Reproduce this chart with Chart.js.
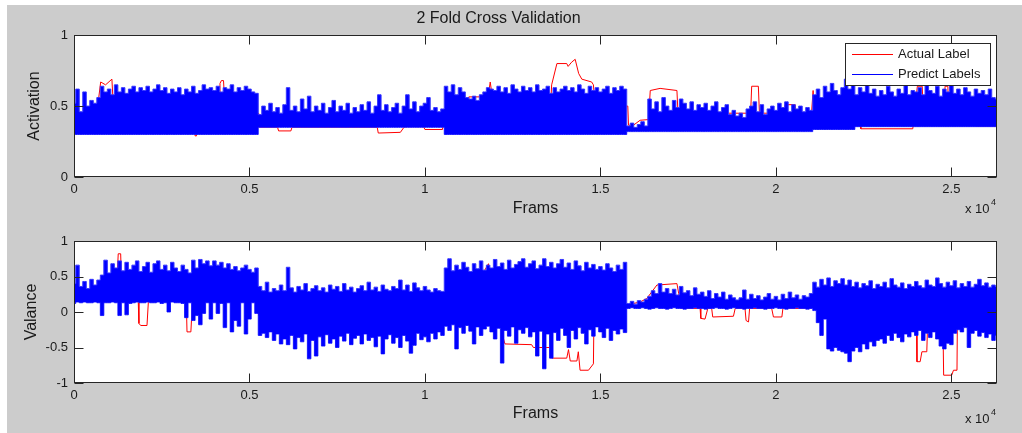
<!DOCTYPE html>
<html>
<head>
<meta charset="utf-8">
<title>2 Fold Cross Validation</title>
<script src="https://cdn.jsdelivr.net/npm/chart.js@4"></script>
<style>
    body { margin: 0; background: #fff; }
    #figure { position: absolute; left: 7px; top: 5px; width: 1015px; height: 428px; background: #ccc; }
    canvas { position: absolute; left: 0; }
    #chart-activation { top: 0; }
    #chart-valance { top: 220px; }
</style>
</head>
<body>
<div id="figure"></div>
<canvas id="chart-activation" width="1022" height="220"></canvas>
<canvas id="chart-valance" width="1022" height="213"></canvas>
<script>
/**
 * Frames between two stored samples of the predicted-label envelope.
 */
const FRAME_STEP = 100;
const FRAME_MAX = 26300;

const xTickFrames = [0, 5000, 10000, 15000, 20000, 25000];
const xTickLabels = ['0', '0.5', '1', '1.5', '2', '2.5'];
const actTicks = [0, 0.5, 1];
const valTicks = [-1, -0.5, 0, 0.5, 1];

/**
 * Activation, predicted labels: upper edge of the band, one value per 100 frames.
 */
const actHigh = [
    0.52, 0.62, 0.46, 0.60, 0.50, 0.54, 0.52, 0.56, 0.64, 0.60,
    0.62, 0.58, 0.65, 0.60, 0.63, 0.59, 0.62, 0.64, 0.60, 0.63,
    0.61, 0.64, 0.60, 0.62, 0.65, 0.61, 0.63, 0.59, 0.62, 0.60,
    0.63, 0.58, 0.62, 0.60, 0.64, 0.59, 0.61, 0.65, 0.62, 0.63,
    0.61, 0.64, 0.60, 0.63, 0.62, 0.65, 0.60, 0.63, 0.61, 0.64,
    0.62, 0.60, 0.59, 0.44, 0.50, 0.47, 0.52, 0.46, 0.49, 0.45,
    0.51, 0.63, 0.47, 0.50, 0.46, 0.55, 0.48, 0.57, 0.46, 0.50,
    0.47, 0.52, 0.45, 0.49, 0.54, 0.46, 0.50, 0.47, 0.52, 0.45,
    0.49, 0.46, 0.51, 0.47, 0.53, 0.45, 0.50, 0.58, 0.47, 0.51,
    0.46, 0.49, 0.52, 0.45, 0.50, 0.58, 0.48, 0.53, 0.46, 0.50,
    0.52, 0.56, 0.47, 0.49, 0.46, 0.48, 0.64, 0.60, 0.65, 0.58,
    0.63, 0.60, 0.56, 0.55, 0.57, 0.54, 0.58, 0.60, 0.63, 0.62,
    0.61, 0.64, 0.60, 0.63, 0.59, 0.65, 0.62, 0.60, 0.64, 0.61,
    0.63, 0.60, 0.65, 0.61, 0.62, 0.64, 0.59, 0.63, 0.60, 0.62,
    0.64, 0.61, 0.63, 0.60, 0.65, 0.62, 0.59, 0.64, 0.61, 0.63,
    0.60, 0.62, 0.64, 0.59, 0.63, 0.61, 0.64, 0.62, 0.36, 0.38,
    0.35, 0.37, 0.39, 0.36, 0.55, 0.48, 0.53, 0.46, 0.56, 0.50,
    0.47, 0.54, 0.49, 0.55, 0.52, 0.48, 0.53, 0.47, 0.51, 0.49,
    0.52, 0.47, 0.50, 0.53, 0.46, 0.49, 0.51, 0.44, 0.47, 0.43,
    0.45, 0.42, 0.48, 0.50, 0.53, 0.46, 0.51, 0.44, 0.48, 0.50,
    0.47, 0.52, 0.49, 0.53, 0.46, 0.51, 0.48, 0.50, 0.46, 0.49,
    0.47, 0.58, 0.62, 0.56, 0.64, 0.60, 0.66, 0.61, 0.58, 0.63,
    0.69, 0.62, 0.65, 0.58, 0.63, 0.60, 0.66, 0.59, 0.62, 0.57,
    0.61, 0.58, 0.64, 0.60, 0.57, 0.62, 0.59, 0.65, 0.58, 0.61,
    0.60, 0.63, 0.58, 0.66, 0.61, 0.59, 0.64, 0.57, 0.62, 0.60,
    0.65, 0.59, 0.62, 0.58, 0.63, 0.60, 0.57, 0.62, 0.59, 0.61,
    0.58, 0.62, 0.56, 0.55
];

/**
 * Activation, predicted labels: the flat lower edge of each block.
 */
const floorStart = [0, 5250, 10510, 15780, 21020, 22300];
const actFloor = [0.30, 0.35, 0.30, 0.32, 0.335, 0.355];

/**
 * Valance, predicted labels: upper and lower edge, one value per 100 frames.
 */
const valHigh = [
    0.40, 0.66, 0.36, 0.43, 0.33, 0.46, 0.38, 0.45, 0.52, 0.73,
    0.55, 0.68, 0.62, 0.72, 0.58, 0.70, 0.60, 0.66, 0.72, 0.57,
    0.64, 0.70, 0.56, 0.68, 0.72, 0.60, 0.66, 0.58, 0.70, 0.62,
    0.57, 0.66, 0.60, 0.55, 0.73, 0.62, 0.74, 0.68, 0.72, 0.65,
    0.72, 0.66, 0.70, 0.62, 0.68, 0.60, 0.64, 0.58, 0.62, 0.66,
    0.60, 0.56, 0.62, 0.36, 0.30, 0.42, 0.28, 0.33, 0.30, 0.38,
    0.30, 0.63, 0.34, 0.28, 0.36, 0.31, 0.40, 0.29, 0.33, 0.37,
    0.30, 0.34, 0.28, 0.38, 0.32, 0.36, 0.29, 0.40, 0.31, 0.35,
    0.28, 0.33, 0.37, 0.30, 0.42, 0.31, 0.35, 0.29, 0.38, 0.32,
    0.30, 0.36, 0.33, 0.45, 0.31, 0.38, 0.29, 0.41, 0.34, 0.30,
    0.36, 0.31, 0.28, 0.33, 0.30, 0.29, 0.62, 0.75, 0.58, 0.66,
    0.60, 0.70, 0.63, 0.57, 0.68, 0.61, 0.72, 0.59, 0.66, 0.62,
    0.74, 0.64, 0.69, 0.60, 0.73, 0.62, 0.67, 0.71, 0.75, 0.63,
    0.68, 0.72, 0.61, 0.66, 0.75, 0.64, 0.70, 0.62, 0.68, 0.74,
    0.63, 0.69, 0.60, 0.72, 0.65, 0.58, 0.70, 0.62, 0.67, 0.60,
    0.64, 0.59, 0.68, 0.62, 0.57, 0.66, 0.60, 0.70, 0.12, 0.15,
    0.11, 0.16, 0.14, 0.18, 0.22, 0.30, 0.26, 0.40, 0.28, 0.33,
    0.26, 0.32, 0.24, 0.36, 0.27, 0.30, 0.23, 0.34, 0.25, 0.28,
    0.22, 0.30, 0.19, 0.26, 0.21, 0.28, 0.18, 0.24, 0.20, 0.17,
    0.20, 0.31, 0.18, 0.25, 0.19, 0.23, 0.17, 0.21, 0.26, 0.18,
    0.22, 0.17, 0.25, 0.19, 0.28, 0.20, 0.24, 0.18, 0.23, 0.21,
    0.26, 0.42, 0.35, 0.46, 0.38, 0.48, 0.36, 0.44, 0.40, 0.47,
    0.38, 0.45, 0.36, 0.42, 0.34, 0.40, 0.37, 0.44, 0.33, 0.39,
    0.36, 0.42, 0.34, 0.47, 0.38, 0.35, 0.41, 0.33, 0.39, 0.36,
    0.43, 0.37, 0.34, 0.45, 0.38, 0.36, 0.48, 0.40, 0.35, 0.42,
    0.37, 0.44, 0.34, 0.40, 0.36, 0.43, 0.35, 0.39, 0.46, 0.37,
    0.41, 0.35, 0.38, 0.36
];
const valLow = [
    0.12, 0.14, 0.13, 0.14, 0.13, 0.13, 0.14, 0.13, -0.05, 0.13,
    0.13, 0.14, 0.13, -0.05, 0.13, -0.04, 0.12, 0.13, 0.14, 0.13,
    0.13, 0.14, 0.13, 0.13, 0.14, 0.12, 0.13, 0.00, 0.14, 0.13,
    0.13, 0.12, -0.08, 0.13, -0.12, -0.05, -0.18, -0.02, 0.13, -0.10,
    0.13, -0.02, 0.12, -0.22, 0.13, -0.28, -0.12, -0.20, 0.13, -0.31,
    -0.10, 0.13, -0.02, -0.33, -0.30, -0.36, -0.28, -0.40, -0.31, -0.45,
    -0.38, -0.46, -0.33, -0.52, -0.36, -0.42, -0.31, -0.66, -0.40, -0.62,
    -0.35, -0.48, -0.32, -0.44, -0.38, -0.50, -0.34, -0.41, -0.30, -0.46,
    -0.37, -0.33, -0.45, -0.31, -0.40, -0.36, -0.49, -0.34, -0.59, -0.38,
    -0.32, -0.44, -0.36, -0.50, -0.33, -0.41, -0.58, -0.47, -0.30, -0.39,
    -0.35, -0.42, -0.30, -0.38, -0.28, -0.33, -0.20, -0.26, -0.18, -0.52,
    -0.22, -0.30, -0.19, -0.27, -0.45, -0.21, -0.33, -0.24, -0.20, -0.28,
    -0.38, -0.23, -0.72, -0.26, -0.34, -0.21, -0.44, -0.25, -0.30, -0.22,
    -0.35, -0.28, -0.62, -0.27, -0.80, -0.31, -0.65, -0.29, -0.40, -0.23,
    -0.33, -0.50, -0.26, -0.38, -0.22, -0.30, -0.45, -0.25, -0.34, -0.21,
    -0.28, -0.36, -0.23, -0.40, -0.26, -0.31, -0.24, -0.29, 0.05, 0.06,
    0.05, 0.05, 0.06, 0.05, 0.04, 0.05, 0.06, 0.05, 0.05, 0.04,
    0.05, 0.06, 0.05, 0.05, 0.04, 0.05, 0.05, 0.06, 0.05, 0.05,
    0.04, 0.05, 0.05, 0.06, 0.05, 0.05, 0.04, 0.05, 0.06, 0.05,
    0.05, 0.04, 0.05, 0.05, 0.06, 0.05, 0.05, 0.04, 0.05, 0.05,
    0.06, 0.05, 0.05, 0.04, 0.05, 0.05, 0.06, 0.05, 0.05, 0.04,
    0.05, 0.02, -0.15, -0.33, -0.10, -0.52, -0.55, -0.50, -0.54, -0.56,
    -0.58, -0.70, -0.55, -0.50, -0.56, -0.45, -0.52, -0.42, -0.48, -0.40,
    -0.38, -0.44, -0.33, -0.40, -0.30, -0.36, -0.42, -0.31, -0.35, -0.28,
    -0.33, -0.26, -0.40, -0.30, -0.36, -0.28, -0.38, -0.48, -0.52, -0.44,
    -0.46, -0.30, -0.25, -0.28, -0.22, -0.50, -0.30, -0.26, -0.34, -0.29,
    -0.36, -0.31, -0.40, -0.33
];

/**
 * Actual labels: the frames where the step line changes and its values there.
 */
const actLabelFrames = [
    0, 680, 700, 760, 900, 1080, 1110, 1130, 3440, 3450, 3480, 3490, 4140, 4160, 4200, 4260, 4290, 4300,
    5250, 5260, 5800, 5830, 6180, 6210, 8640, 8670, 9300, 9400, 9500, 9960, 10000, 10500,
    10520, 11200, 11230, 11250, 11800, 11860, 11900, 12000, 13580, 13610, 13760, 14040, 14080, 14180,
    14280, 14380, 14470, 14750, 14800, 14850, 15780, 15800, 15940, 16130, 16370, 16420, 16700, 17180,
    17210, 19280, 19310, 19500, 19530, 20240, 20260, 20550, 20580, 21000, 21060, 21100, 22400, 22420,
    23900, 23950, 24030, 24170, 24200, 24800, 24820, 24900, 24920, 25700, 25720, 26300
];
const actLabelValues = [
    0.45, 0.45, 0.55, 0.67, 0.65, 0.69, 0.55, 0.45, 0.45, 0.29, 0.29, 0.45, 0.50, 0.66, 0.68, 0.68, 0.55, 0.45,
    0.45, 0.35, 0.35, 0.325, 0.325, 0.35, 0.35, 0.31, 0.315, 0.35, 0.355, 0.355, 0.335, 0.335,
    0.40, 0.45, 0.53, 0.565, 0.565, 0.67, 0.60, 0.50, 0.50, 0.65, 0.80, 0.80, 0.78, 0.81,
    0.83, 0.73, 0.69, 0.67, 0.65, 0.50, 0.50, 0.365, 0.365, 0.40, 0.405, 0.61, 0.625, 0.61,
    0.45, 0.45, 0.64, 0.64, 0.45, 0.45, 0.51, 0.51, 0.40, 0.40, 0.61, 0.45, 0.45, 0.34,
    0.34, 0.45, 0.64, 0.64, 0.45, 0.45, 0.64, 0.64, 0.45, 0.45, 0.36, 0.36
];
const valLabelFrames = [
    0, 1050, 1070, 1240, 1260, 1330, 1350, 1370, 1830, 1850, 1900, 2080, 2120, 3200, 3220, 3330, 3360, 3400,
    3640, 3650, 3700, 3710, 5250, 5270, 10500, 10520, 11200, 11240, 11380, 11670, 11810, 11850,
    12100, 12140, 12240, 12280, 13040, 13090, 13570, 13610, 14040, 14090, 14140, 14330, 14370, 14420,
    14660, 14800, 14820, 15780, 15800, 15940, 16130, 16320, 16610, 17180, 17230, 17300, 17840, 17860,
    17980, 18060, 18170, 18200, 18790, 18840, 19120, 19150, 19220, 19250, 19880, 19930, 20170, 20200,
    21020, 21100, 21700, 21780, 21800, 24000, 24020, 24110, 24160, 24300, 24320, 24760, 24780, 25010,
    25060, 25160, 25170, 26300
];
const valLabelValues = [
    0.15, 0.15, 0.45, 0.60, 0.82, 0.82, 0.45, 0.15, 0.15, -0.16, -0.19, -0.19, 0.15, 0.15, -0.28, -0.28, 0.0, 0.15,
    0.15, 0.0, 0.0, 0.15, 0.15, -0.05, -0.05, 0.07, 0.07, 0.38, 0.42, 0.56, 0.68, 0.20,
    0.20, -0.05, -0.38, -0.45, -0.46, -0.50, -0.50, -0.65, -0.65, -0.53, -0.69, -0.69, -0.56, -0.82,
    -0.82, -0.73, 0.09, 0.09, 0.07, 0.12, 0.14, 0.19, 0.38, 0.40, 0.26, 0.05, 0.05, -0.09,
    -0.10, 0.05, 0.05, -0.07, -0.06, 0.05, 0.05, -0.12, -0.14, 0.05, 0.05, -0.07, -0.07, 0.05,
    0.05, 0.20, 0.35, 0.35, 0.0, 0.0, -0.70, -0.70, -0.56, -0.56, -0.20, -0.20, -0.89, -0.89,
    -0.82, -0.82, -0.19, -0.19
];

const FONT = "'Liberation Sans', Arial, sans-serif";
const INK = '#1a1a1a';
const AXIS = '#262626';
const TICK_LEN = 9;

const onDOMLoaded = () => {
    Chart.defaults.font.family = FONT;
    Chart.defaults.color = INK;

    const frames = actHigh.map((_, i) => i * FRAME_STEP);

    /**
     * Lower edge of the activation band: the floor of the block a frame belongs to.
     */
    const floorAt = (frame) => {
        let value = actFloor[0];
        floorStart.forEach((start, i) => {
            if (frame >= start) value = actFloor[i];
        });
        return value;
    };
    const actLow = frames.map(floorAt);

    const toPoints = (xs, ys) => xs.map((x, i) => ({x, y: ys[i]}));

    /**
     * The blue band is drawn as columns (stepped edges), which reads like the dense
     * vertical strokes of the original instead of a smooth saw.
     */
    const buildDatasets = (labelFrames, labelValues, high, low) => [
        {
            label: 'Actual Label', data: toPoints(labelFrames, labelValues),
            borderColor: '#ff0000', borderWidth: 1, pointRadius: 0, fill: false, order: 1
        },
        {
            label: 'Predict Labels', data: toPoints(frames, high), stepped: 'middle',
            borderColor: '#3636ff', backgroundColor: '#0000ff', borderWidth: 1, pointRadius: 0, fill: '+1', order: 0
        },
        {
            label: 'Predict Labels', data: toPoints(frames, low), stepped: 'middle',
            borderColor: '#3636ff', borderWidth: 1, pointRadius: 0, fill: false, order: 0
        }
    ];

    /**
     * White plot area below, box and inward ticks on top, as in the original figure.
     */
    const plotFrame = {
        id: 'plotFrame',
        beforeDraw: (chart) => {
            const {ctx, chartArea: a} = chart;
            ctx.save();
            ctx.fillStyle = '#fff';
            ctx.fillRect(a.left, a.top, a.right - a.left, a.bottom - a.top);
            ctx.restore();
        },
        afterDraw: (chart) => {
            const {ctx, chartArea: a, scales: {x, y}} = chart;
            const left = Math.floor(a.left) + 0.5;
            const right = Math.floor(a.right) - 0.5;
            const top = Math.floor(a.top) + 0.5;
            const bottom = Math.floor(a.bottom) - 0.5;
            ctx.save();
            ctx.strokeStyle = AXIS;
            ctx.lineWidth = 1;
            ctx.strokeRect(left, top, right - left, bottom - top);
            ctx.beginPath();
            x.ticks.forEach((t) => {
                const px = Math.round(x.getPixelForValue(t.value)) + 0.5;
                ctx.moveTo(px, bottom); ctx.lineTo(px, bottom - TICK_LEN);
                ctx.moveTo(px, top); ctx.lineTo(px, top + TICK_LEN);
            });
            y.ticks.forEach((t) => {
                const py = Math.round(y.getPixelForValue(t.value)) + 0.5;
                ctx.moveTo(left, py); ctx.lineTo(left + TICK_LEN, py);
                ctx.moveTo(right, py); ctx.lineTo(right - TICK_LEN, py);
            });
            ctx.stroke();
            ctx.restore();
        }
    };

    /**
     * The "x 10^4" multiplier under the right end of the frame axis.
     */
    const exponentLabel = {
        id: 'exponentLabel',
        afterDraw: (chart, args, opts) => {
            const {ctx, chartArea: a} = chart;
            ctx.save();
            ctx.fillStyle = INK;
            ctx.textBaseline = 'alphabetic';
            ctx.font = `13px ${FONT}`;
            ctx.fillText('x 10', a.right - 32, opts.baseline);
            ctx.font = `9px ${FONT}`;
            ctx.fillText('4', a.right - 6, opts.baseline - 8);
            ctx.restore();
        }
    };

    /**
     * Boxed legend in the upper right corner of the activation plot.
     */
    const legendBox = {
        id: 'legendBox',
        afterDraw: (chart) => {
            const {ctx, chartArea: a} = chart;
            const L = Math.floor(a.right) - 152;
            const T = Math.floor(a.top) + 8;
            ctx.save();
            ctx.fillStyle = '#fff';
            ctx.fillRect(L, T, 145, 42);
            ctx.strokeStyle = AXIS;
            ctx.lineWidth = 1;
            ctx.strokeRect(L + 0.5, T + 0.5, 145, 42);
            ctx.font = `13px ${FONT}`;
            ctx.textBaseline = 'middle';
            chart.data.datasets.slice(0, 2).forEach((ds, i) => {
                const rowY = T + 11.5 + i * 20;
                ctx.strokeStyle = i === 0 ? ds.borderColor : ds.backgroundColor;
                ctx.beginPath();
                ctx.moveTo(L + 7, rowY);
                ctx.lineTo(L + 48, rowY);
                ctx.stroke();
                ctx.fillStyle = INK;
                ctx.fillText(ds.label, L + 53, rowY);
            });
            ctx.restore();
        }
    };

    const xScale = (titlePadBottom, axisHeight) => ({
        type: 'linear', min: 0, max: FRAME_MAX,
        afterBuildTicks: (s) => { s.ticks = xTickFrames.map((value) => ({value})); },
        afterFit: (s) => { s.height = axisHeight; },
        grid: {display: false, drawTicks: false},
        border: {display: false},
        ticks: {padding: 5, font: {size: 13}, maxRotation: 0, autoSkip: false, callback: (v, i) => xTickLabels[i]},
        title: {display: true, text: 'Frams', font: {size: 16}, padding: {top: 0, bottom: titlePadBottom}}
    });

    const yScale = (tickList, text, titlePad) => ({
        min: tickList[0], max: tickList[tickList.length - 1],
        afterBuildTicks: (s) => { s.ticks = tickList.map((value) => ({value})); },
        afterFit: (s) => { s.width = 74; },
        grid: {display: false, drawTicks: false},
        border: {display: false},
        ticks: {padding: 6, font: {size: 13}, callback: (v) => String(v)},
        title: {display: true, text, font: {size: 16}, padding: {top: titlePad, bottom: 0}}
    });

    const baseOptions = {
        responsive: false,
        animation: false,
        devicePixelRatio: 1,
        events: []
    };

    new Chart(document.getElementById('chart-activation'), {
        type: 'line',
        data: {datasets: buildDatasets(actLabelFrames, actLabelValues, actHigh, actLow)},
        options: {
            ...baseOptions,
            layout: {padding: {left: 0, right: 25, top: 0, bottom: 0}},
            scales: {x: xScale(2, 43), y: yScale(actTicks, 'Activation', 25)},
            plugins: {
                legend: {display: false},
                tooltip: {enabled: false},
                title: {
                    display: true, text: '2 Fold Cross Validation', color: INK,
                    font: {size: 16, weight: 'normal'}, padding: {top: 9, bottom: 7}
                },
                exponentLabel: {baseline: 213}
            }
        },
        plugins: [plotFrame, exponentLabel, legendBox]
    });

    new Chart(document.getElementById('chart-valance'), {
        type: 'line',
        data: {datasets: buildDatasets(valLabelFrames, valLabelValues, valHigh, valLow)},
        options: {
            ...baseOptions,
            layout: {padding: {left: 0, right: 25, top: 21, bottom: 0}},
            scales: {x: xScale(10, 50), y: yScale(valTicks, 'Valance', 22)},
            plugins: {
                legend: {display: false},
                tooltip: {enabled: false},
                exponentLabel: {baseline: 203}
            }
        },
        plugins: [plotFrame, exponentLabel]
    });
};

document.addEventListener('DOMContentLoaded', onDOMLoaded);
</script>
</body>
</html>
